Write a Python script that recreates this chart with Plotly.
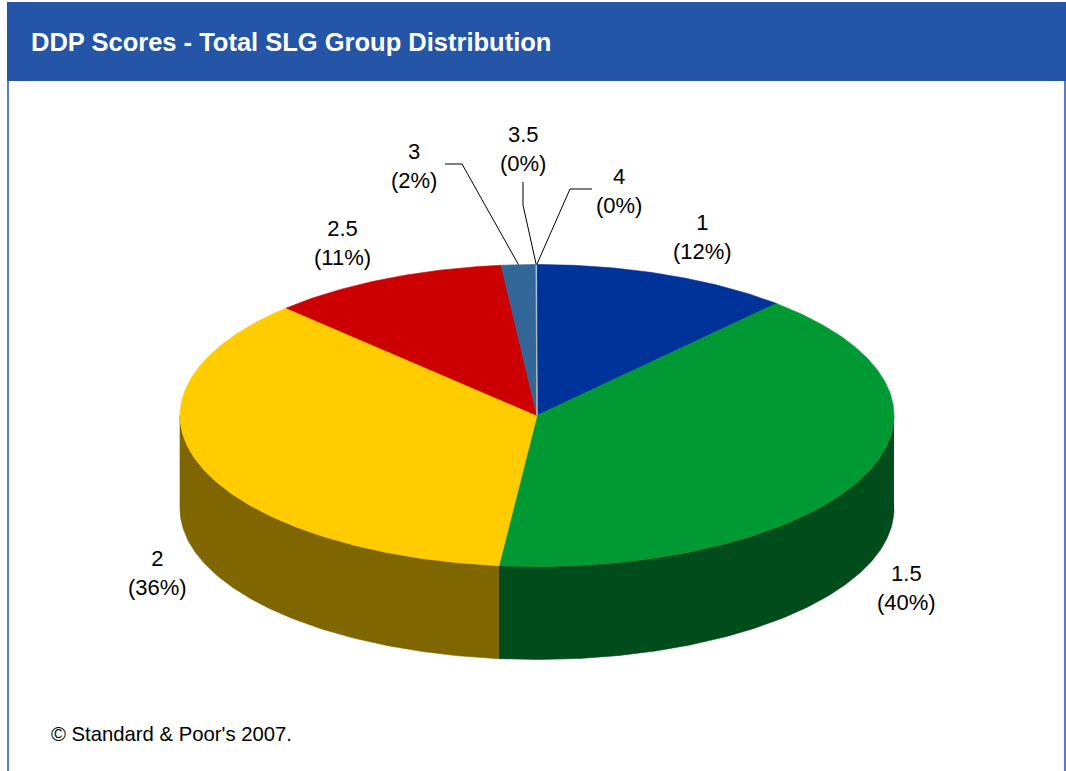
import math
import plotly.graph_objects as go

# ---- data ----
categories = ["1", "1.5", "2", "2.5", "3", "3.5", "4"]
values = [11.7, 40.0, 35.9, 10.8, 1.55, 0.03, 0.02]
top_colors = ["#003399", "#009933", "#FFCC00", "#CC0000", "#336699", "#FF9900", "#99CCFF"]

title_text = "DDP Scores - Total SLG Group Distribution"
footer_text = "© Standard & Poor's 2007."

# ---- layout geometry (pixels) ----
W, H = 1066, 771
CX, CY = 537.0, 415.5
RX, RY = 357.0, 151.0
DEPTH = 93.0

# label anchor positions (pixel) for each category
label_pos = [(702, 237), (906, 588), (157, 573), (342, 243), (414, 166), (523, 149), (619, 191)]
# leader elbow points for the tiny slices (label side)
leaders = {4: [(445, 164), (462, 164)], 5: [(523, 182), (523, 205)], 6: [(592, 189), (570, 189)]}


def darker(hexcol, f=0.5):
    h = hexcol.lstrip("#")
    r, g, b = int(h[0:2], 16), int(h[2:4], 16), int(h[4:6], 16)
    return "rgb(%d,%d,%d)" % (round(r * f), round(g * f), round(b * f))


def pt(t_deg, dy=0.0):
    t = math.radians(t_deg)
    return CX + RX * math.sin(t), CY - RY * math.cos(t) + dy


total = sum(values)
angles = []
acc = 0.0
for v in values:
    a0 = acc / total * 360.0
    acc += v
    a1 = acc / total * 360.0
    angles.append((a0, a1))

fig = go.Figure()

# side walls (front half only: 90..270 deg)
for i, (a0, a1) in enumerate(angles):
    s, e = max(a0, 90.0), min(a1, 270.0)
    if e <= s:
        continue
    n = max(4, int((e - s) * 2))
    ts = [s + (e - s) * k / n for k in range(n + 1)]
    xs = [pt(t)[0] for t in ts] + [pt(t, DEPTH)[0] for t in reversed(ts)]
    ys = [pt(t)[1] for t in ts] + [pt(t, DEPTH)[1] for t in reversed(ts)]
    col = darker(top_colors[i])
    fig.add_trace(go.Scatter(x=xs, y=ys, mode="lines", fill="toself", fillcolor=col,
                             line=dict(color=col, width=0.6), hoverinfo="skip", showlegend=False))

# top faces
for i, (a0, a1) in enumerate(angles):
    n = max(2, int((a1 - a0) * 2))
    ts = [a0 + (a1 - a0) * k / n for k in range(n + 1)]
    xs = [CX] + [pt(t)[0] for t in ts] + [CX]
    ys = [CY] + [pt(t)[1] for t in ts] + [CY]
    col = top_colors[i]
    fig.add_trace(go.Scatter(x=xs, y=ys, mode="lines", fill="toself", fillcolor=col,
                             line=dict(color=col, width=0.6), hoverinfo="text",
                             text="%s: %.0f%%" % (categories[i], values[i] / total * 100),
                             showlegend=False))

# leader lines for small slices
for i, elbow in leaders.items():
    a0, a1 = angles[i]
    ex, ey = pt((a0 + a1) / 2.0)
    xs = [p[0] for p in elbow] + [ex]
    ys = [p[1] for p in elbow] + [ey]
    fig.add_trace(go.Scatter(x=xs, y=ys, mode="lines", line=dict(color="black", width=1),
                             hoverinfo="skip", showlegend=False))

# data labels
for i, cat in enumerate(categories):
    pct = values[i] / total * 100
    lx, ly = label_pos[i]
    fig.add_annotation(x=lx, y=ly, xref="x", yref="y", text="%s<br>(%.0f%%)" % (cat, pct),
                       showarrow=False, font=dict(family="Arial, Liberation Sans", size=22, color="black"),
                       align="center", xanchor="center", yanchor="middle")

# header band
fig.add_shape(type="rect", xref="x", yref="y", x0=7, x1=1066, y0=2, y1=81,
              fillcolor="#2455A7", line=dict(width=0), layer="below")
# frame lines
fig.add_shape(type="line", xref="x", yref="y", x0=8, x1=8, y0=2, y1=771,
              line=dict(color="#2455A7", width=1.5))
fig.add_shape(type="line", xref="x", yref="y", x0=1065, x1=1065, y0=2, y1=771,
              line=dict(color="#2455A7", width=1.5))

fig.add_annotation(x=29, y=42, xref="x", yref="y", text="<b>%s</b>" % title_text, showarrow=False,
                   xanchor="left", yanchor="middle",
                   font=dict(family="Arial, Liberation Sans", size=25.5, color="white"))
fig.add_annotation(x=49, y=734, xref="x", yref="y", text=footer_text, showarrow=False,
                   xanchor="left", yanchor="middle",
                   font=dict(family="Arial, Liberation Sans", size=20.3, color="black"))

fig.update_xaxes(range=[0, W], visible=False, fixedrange=True)
fig.update_yaxes(range=[H, 0], visible=False, fixedrange=True)
fig.update_layout(width=W, height=H, margin=dict(l=0, r=0, t=0, b=0),
                  paper_bgcolor="white", plot_bgcolor="white", showlegend=False)

fig.write_html("out.html", config={"displayModeBar": False},
               post_script="document.body.style.margin='0';document.body.style.overflow='hidden';")
